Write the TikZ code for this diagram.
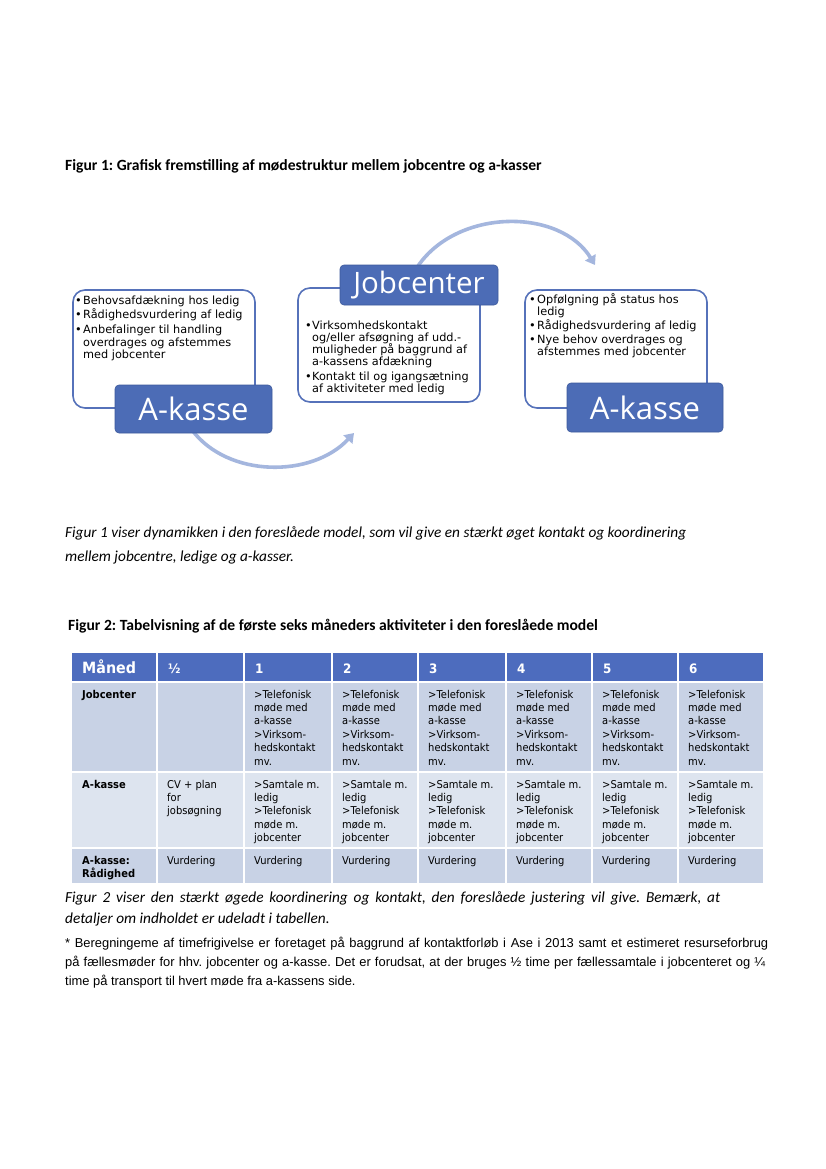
\documentclass[tikz,border=0pt]{standalone}
\usepackage{fontspec}
\setmainfont{Carlito}
\newfontfamily\tah{DejaVu Sans}
\newfontfamily\tahc[FakeStretch=0.92]{DejaVu Sans}
\newfontfamily\seg{Open Sans}
\newfontfamily\arl{Liberation Sans}
\usetikzlibrary{arrows.meta}
\definecolor{hdrblue}{HTML}{4D6CBE}
\definecolor{rowA}{HTML}{C8D2E5}
\definecolor{rowB}{HTML}{DDE4EF}
\definecolor{lblblue}{HTML}{4C6CB6}
\definecolor{lbledge}{HTML}{3D5A9C}
\definecolor{outl}{HTML}{5672BA}
\definecolor{arrowblue}{HTML}{A4B6DE}
\frenchspacing
\begin{document}
\begin{tikzpicture}[x=1pt,y=-1pt,
  body/.style={anchor=base west, inner sep=0pt, font=\fontsize{15.3}{18}\selectfont},
  ttl/.style={body, font=\fontsize{15.6}{18}\selectfont\bfseries},
  ital/.style={body, font=\fontsize{15.3}{18}\selectfont\itshape},
  foot/.style={anchor=base west, inner sep=0pt, font=\arl\fontsize{12.9}{14}\selectfont},
  outbox/.style={draw=outl, line width=1.6pt, rounded corners=12pt, fill=white, inner sep=0pt},
  lbl/.style={draw=lbledge, line width=0.6pt, fill=lblblue, rounded corners=4pt, text=white, inner sep=0pt, font=\seg\fontsize{31}{33}\selectfont},
  btxt/.style={anchor=base west, inner sep=0pt, font=\tah\fontsize{11.3}{13}\selectfont},
  arr/.style={draw=arrowblue, line width=3.6pt, -{Triangle[width=12pt,length=9pt]}},
  cell/.style={anchor=base west, inner sep=0pt, font=\tahc\fontsize{10.8}{13}\selectfont},
  cellb/.style={cell, font=\tahc\fontsize{10.8}{13}\selectfont\bfseries},
  hdr/.style={anchor=base west, inner sep=0pt, text=white, font=\tahc\fontsize{13}{15}\selectfont\bfseries},
  grid/.style={white, line width=1.5pt}]
\fill[white] (0,0) rectangle (826,1169);
\useasboundingbox (0,0) rectangle (826,1169);

% ---------- Figure 1 title
\node[ttl] (t1) at (65,171) {Figur 1: Grafisk fremstilling af mødestruktur mellem jobcentre og a-kasser};

% ---------- arrows
\coordinate (a1s) at (418,266);
\coordinate (a1e) at (595,265);
\draw[arr] (a1s) .. controls (458,208) and (560,208) .. (a1e);
\coordinate (a2s) at (192,430);
\coordinate (a2e) at (354,433);
\draw[arr] (a2s) .. controls (228,478) and (312,478) .. (a2e);

% ---------- left group
\node[outbox, minimum width=182pt, minimum height=118pt] (bxL) at (164,349) {};
\node[lbl, minimum width=157pt, minimum height=48pt] (akL) at (193.5,409) {A-kasse};
\foreach \yy in {304,318,333} \node[btxt] at (75,\yy) {•};
\node[btxt] (l1) at (83,304) {Behovsafdækning hos ledig};
\node[btxt] (l2) at (83,318) {Rådighedsvurdering af ledig};
\node[btxt] (l3) at (83,333) {Anbefalinger til handling};
\node[btxt] (l4) at (83,346) {overdrages og afstemmes};
\node[btxt] (l5) at (83,358) {med jobcenter};

% ---------- middle group
\node[outbox, minimum width=182pt, minimum height=114pt] (bxM) at (389,345) {};
\node[lbl, minimum width=158pt, minimum height=40pt, font=\seg\fontsize{29.5}{31}\selectfont] (jc) at (419,285) {Jobcenter};
\foreach \yy in {329,380} \node[btxt] at (305,\yy) {•};
\node[btxt] (m1) at (312,329) {Virksomhedskontakt};
\node[btxt] (m2) at (312,341) {og/eller afsøgning af udd.-};
\node[btxt] (m3) at (312,353) {muligheder på baggrund af};
\node[btxt] (m4) at (312,365) {a-kassens afdækning};
\node[btxt] (m5) at (312,380) {Kontakt til og igangsætning};
\node[btxt] (m6) at (312,392) {af aktiviteter med ledig};

% ---------- right group
\node[outbox, minimum width=182pt, minimum height=118pt] (bxR) at (616,349) {};
\node[lbl, minimum width=156pt, minimum height=49pt] (akR) at (645,407.5) {A-kasse};
\foreach \yy in {303,329,343} \node[btxt] at (529,\yy) {•};
\node[btxt] (r1) at (537,303) {Opfølgning på status hos};
\node[btxt] (r2) at (537,315) {ledig};
\node[btxt] (r3) at (537,329) {Rådighedsvurdering af ledig};
\node[btxt] (r4) at (537,343) {Nye behov overdrages og};
\node[btxt] (r5) at (537,355) {afstemmes med jobcenter};

% ---------- paragraph 1
\node[ital] (p1a) at (65,537) {Figur 1 viser dynamikken i den foreslåede model, som vil give en stærkt øget kontakt og koordinering};
\node[ital] (p1b) at (65,561) {mellem jobcentre, ledige og a-kasser.};

% ---------- Figure 2 title
\node[ttl] (t2) at (68,630) {Figur 2: Tabelvisning af de første seks måneders aktiviteter i den foreslåede model};

% ---------- table
\fill[hdrblue] (72,653) rectangle (763,682);
\fill[rowA] (72,682) rectangle (763,772);
\fill[rowB] (72,772) rectangle (763,848);
\fill[rowA] (72,848) rectangle (763,883);
\foreach \x in {157,244,332,418,506,592,678} \draw[grid] (\x,653) -- (\x,883);
\foreach \y in {682,772,848} \draw[grid] (72,\y) -- (763,\y);

\node[hdr, font=\tahc\fontsize{15.5}{17}\selectfont\bfseries] (hm) at (82,673) {Måned};
\foreach \x/\t [count=\k] in {157/½,244/1,332/2,418/3,506/4,592/5,678/6}
  \node[hdr, name=h\k] at (\x+11,673) {\t};

\node[cellb] (rj) at (82,698) {Jobcenter};
\node[cellb] (ra) at (82,788) {A-kasse};
\node[cellb] (rr1) at (82,864) {A-kasse:};
\node[cellb] (rr2) at (82,877) {Rådighed};

\foreach \x [count=\k] in {244,332,418,506,592,678} {
  \foreach \t [count=\i] in {>Telefonisk,møde med,a-kasse,>Virksom-,hedskontakt,mv.}
    \node[cell, name=j\k-\i] at (\x+10,698+\i*13.4-13.4) {\t};
  \foreach \t [count=\i] in {>Samtale m.,ledig,>Telefonisk,møde m.,jobcenter}
    \node[cell, name=a\k-\i] at (\x+10,788+\i*13.4-13.4) {\t};
}
\foreach \t [count=\i] in {CV + plan,for,jobsøgning}
  \node[cell, name=ah-\i] at (167,788+\i*13.4-13.4) {\t};
\foreach \x [count=\k] in {157,244,332,418,506,592,678}
  \node[cell, name=v\k] at (\x+10,864) {Vurdering};

% ---------- paragraph 2
\node[ital] (p2a) at (65,902) {\makebox[655pt][s]{Figur 2 viser den stærkt øgede koordinering og kontakt, den foreslåede justering vil give. Bemærk, at}};
\node[ital] (p2b) at (65,923) {detaljer om indholdet er udeladt i tabellen.};

% ---------- footnote
\node[foot] (f1) at (65,947) {\makebox[703pt][s]{* Beregningeme af timefrigivelse er foretaget på baggrund af kontaktforløb i Ase i 2013 samt et estimeret resurseforbrug}};
\node[foot] (f2) at (65,966) {\makebox[700pt][s]{på fællesmøder for hhv. jobcenter og a-kasse. Det er forudsat, at der bruges ½ time per fællessamtale i jobcenteret og ¼}};
\node[foot] (f3) at (65,985) {time på transport til hvert møde fra a-kassens side.};
\end{tikzpicture}
\end{document}
